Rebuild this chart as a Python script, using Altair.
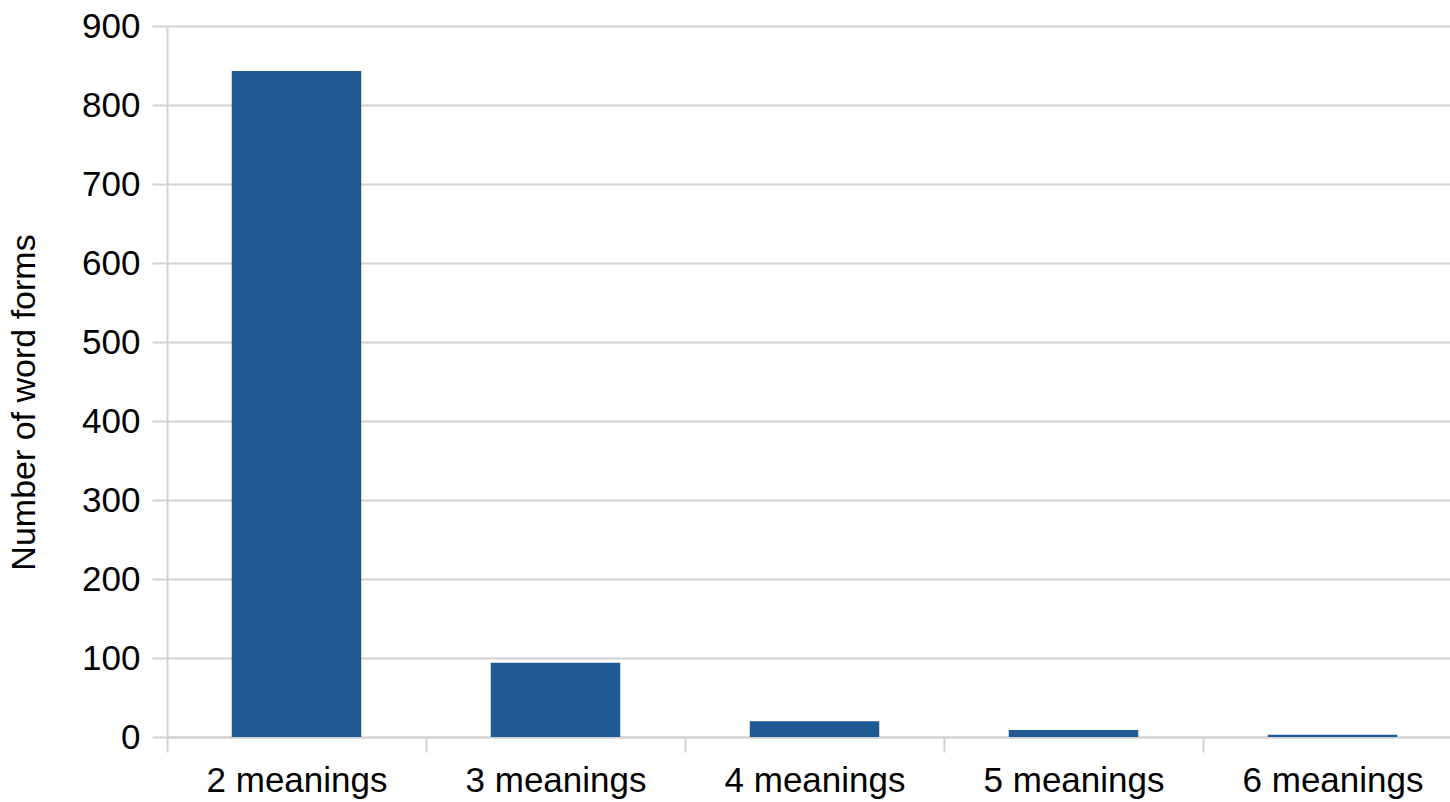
import altair as alt
import pandas as pd

categories = ["2 meanings", "3 meanings", "4 meanings", "5 meanings", "6 meanings"]
counts = [843, 94, 20, 9, 3]

df = pd.DataFrame({"category": categories, "count": counts})

STEP = 259
FONT = "Liberation Sans"
GRID = "#d2d2d2"

chart = alt.Chart(df).mark_bar(color="#1f5a92").encode(
    x=alt.X(
        "category:N",
        sort=categories,
        title=None,
        scale=alt.Scale(range=[0, STEP * 5], paddingInner=0.5, paddingOuter=0.25),
        axis=alt.Axis(
            labelAngle=0,
            labelFont=FONT,
            labelFontSize=35,
            labelColor="#000000",
            labelPadding=11,
            labelLimit=0,
            tickSize=15,
            tickColor=GRID,
            tickWidth=2,
            domainColor=GRID,
            domainWidth=2,
            bandPosition=0.5,
            tickOffset=-STEP / 2,
            labelOffset=STEP / 2,
            grid=False,
        ),
    ),
    y=alt.Y(
        "count:Q",
        title="Number of word forms",
        scale=alt.Scale(domain=[0, 900], nice=False),
        axis=alt.Axis(
            values=[0, 100, 200, 300, 400, 500, 600, 700, 800, 900],
            labelFont=FONT,
            labelFontSize=35,
            labelColor="#000000",
            labelPadding=12,
            tickSize=15,
            tickColor=GRID,
            tickWidth=2,
            domainColor=GRID,
            domainWidth=2,
            gridColor=GRID,
            gridWidth=2,
            titleFont=FONT,
            titleFontSize=34,
            titleFontWeight="normal",
            titleColor="#000000",
            titlePadding=40,
            titleY=376,
        ),
    ),
).properties(
    width=1283,
    height=711,
    autosize=alt.AutoSizeParams(type="none"),
    padding={"left": 167, "top": 26, "right": 0, "bottom": 64},
).configure_view(stroke=None)

chart.save("out.html", embed_options={"renderer": "svg", "actions": False})
